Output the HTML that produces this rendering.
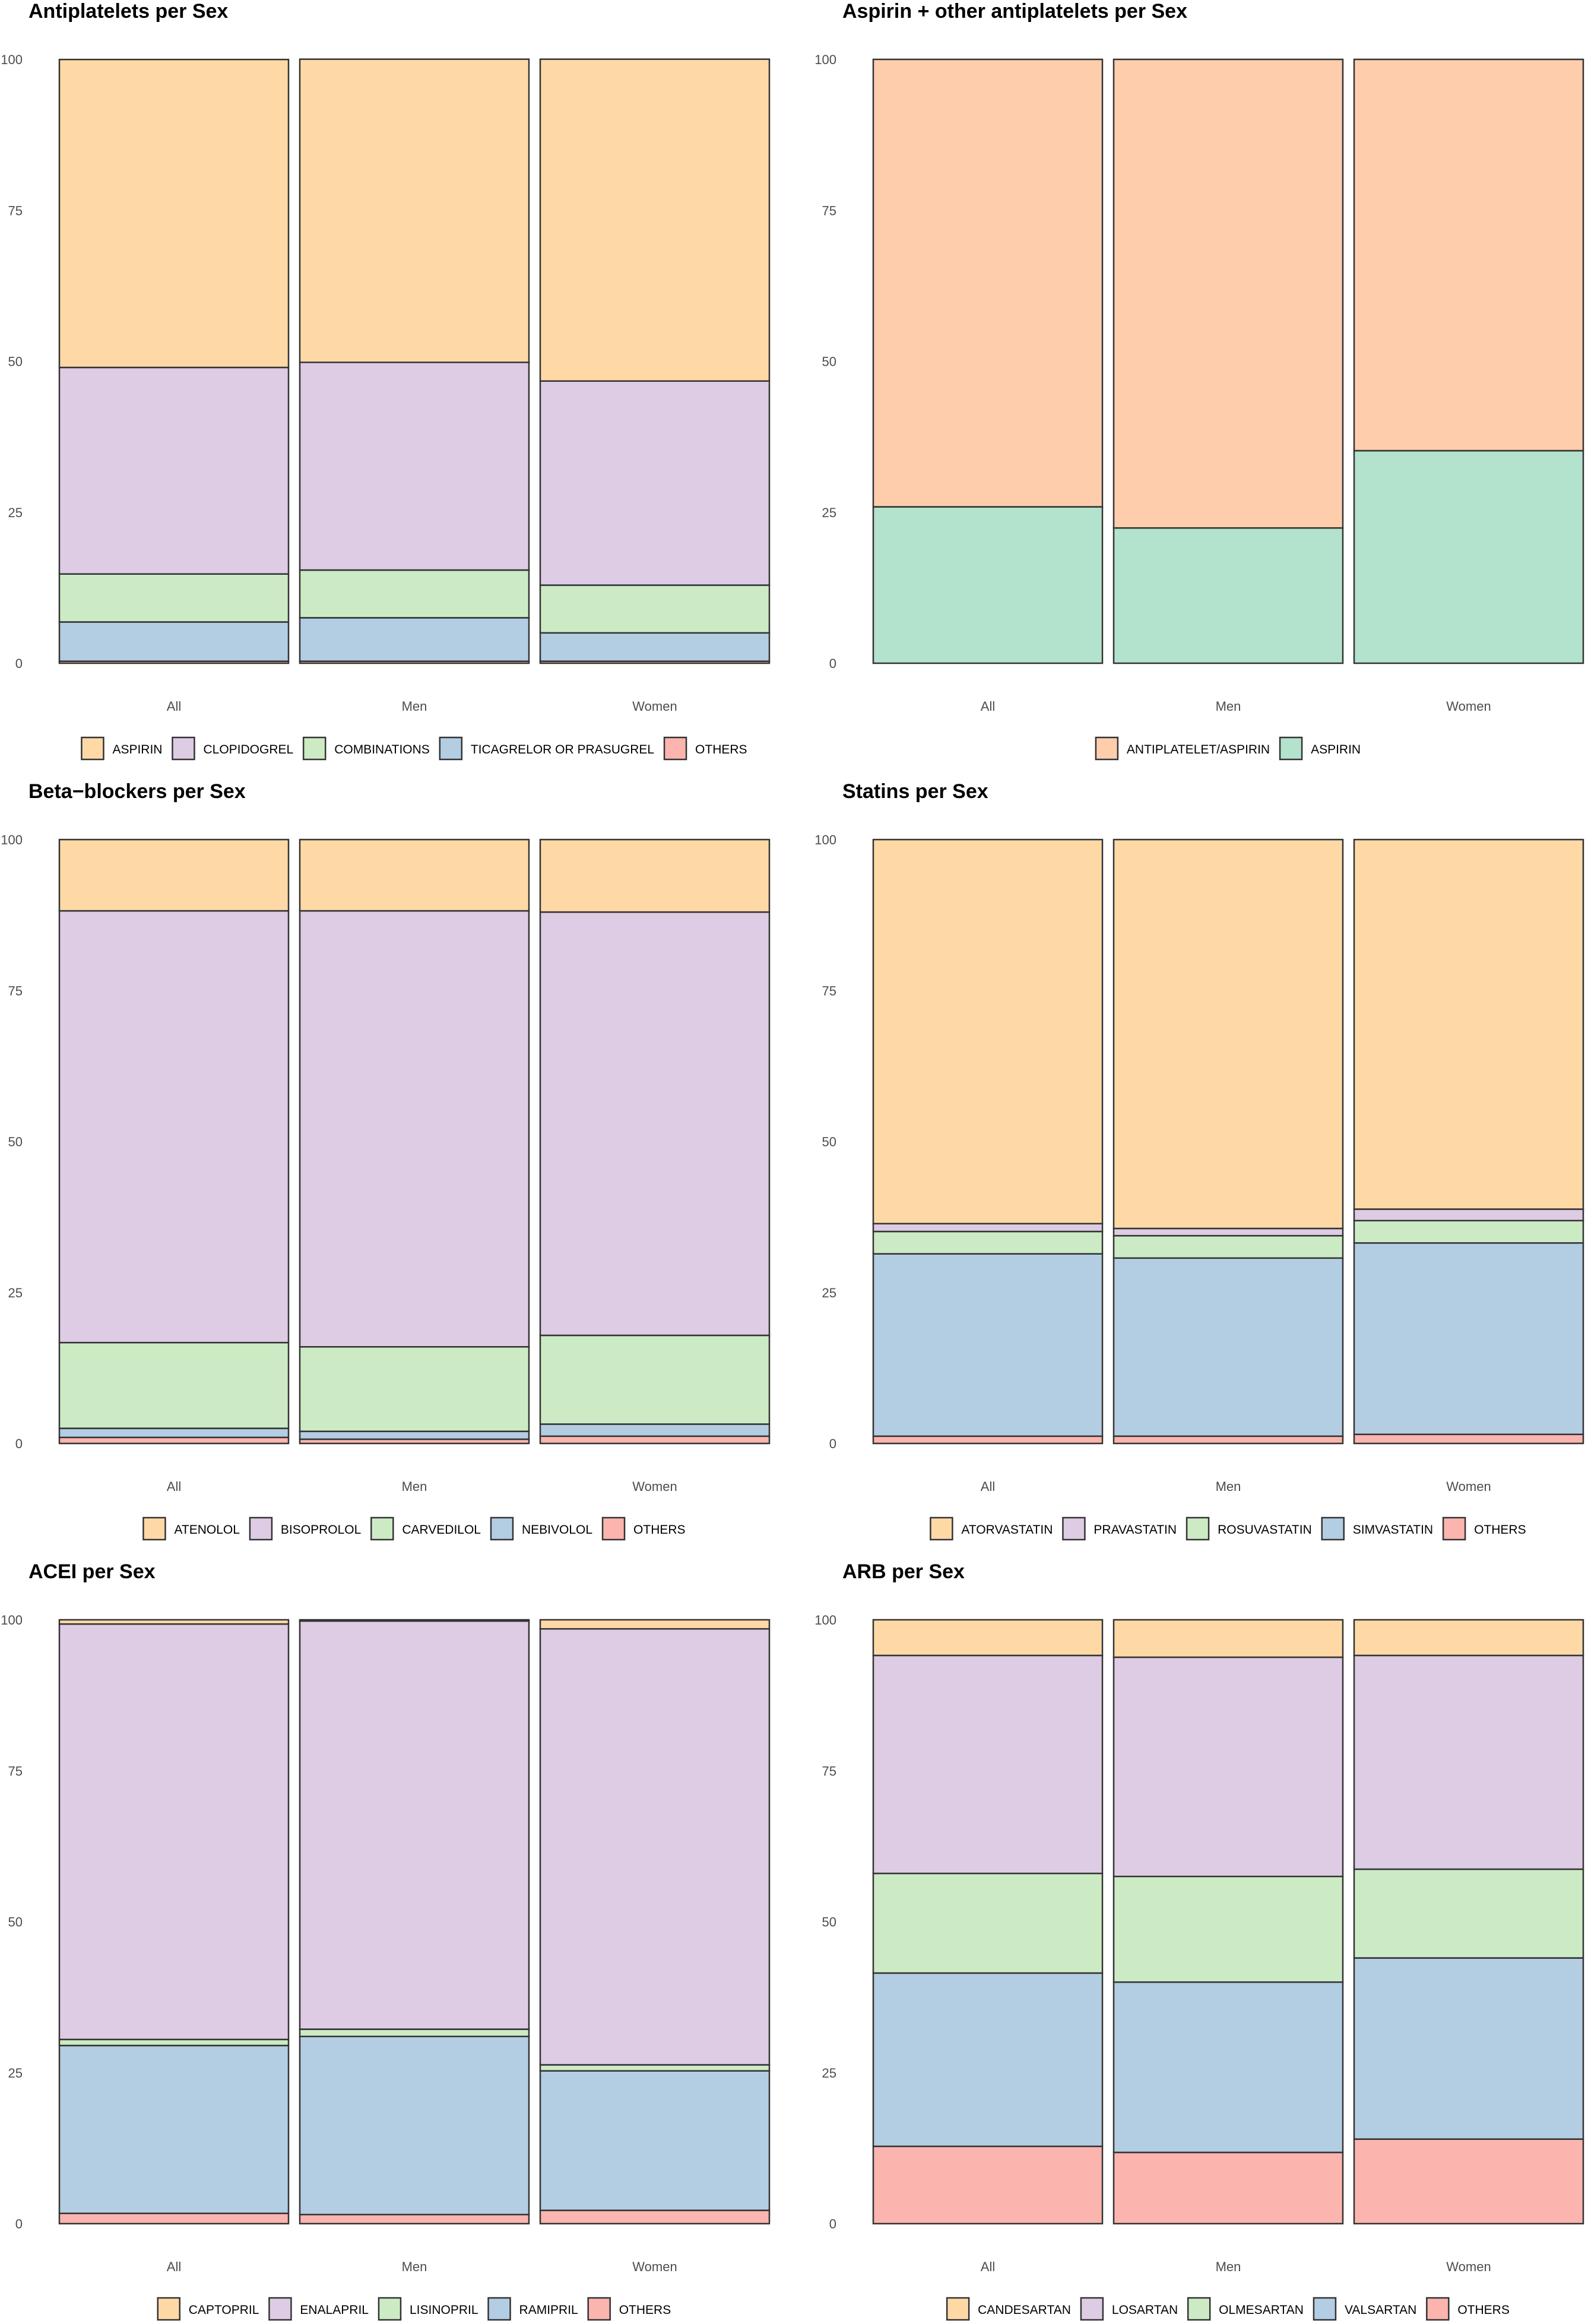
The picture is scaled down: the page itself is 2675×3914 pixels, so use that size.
<!DOCTYPE html>
<html><head><meta charset="utf-8">
<style>
html,body{margin:0;padding:0;background:#fff;}
svg{display:block;font-family:"Liberation Sans",Arial,sans-serif;}
</style></head>
<body>
<svg id="chart" width="2675" height="3914" viewBox="0 0 2675 3914" xmlns="http://www.w3.org/2000/svg"></svg>
<script>
const categories = ["All","Men","Women"];
const yTicks = [0,25,50,75,100];

// Panel 1: Antiplatelets (bottom-up order)
const p1Series = ["OTHERS","TICAGRELOR OR PRASUGREL","COMBINATIONS","CLOPIDOGREL","ASPIRIN"];
const p1All = [0.33,6.5,7.95,34.2,51.0];
const p1Men = [0.33,7.2,7.9,34.4,50.2];
const p1Women = [0.33,4.7,7.9,33.8,53.3];

// Panel 2: Aspirin + other antiplatelets
const p2Series = ["ASPIRIN","ANTIPLATELET/ASPIRIN"];
const p2All = [25.9,74.1];
const p2Men = [22.4,77.6];
const p2Women = [35.2,64.8];

// Panel 3: Beta-blockers
const p3Series = ["OTHERS","NEBIVOLOL","CARVEDILOL","BISOPROLOL","ATENOLOL"];
const p3All = [1.0,1.5,14.2,71.5,11.8];
const p3Men = [0.7,1.3,14.0,72.2,11.8];
const p3Women = [1.2,2.0,14.7,70.1,12.0];

// Panel 4: Statins
const p4Series = ["OTHERS","SIMVASTATIN","ROSUVASTATIN","PRAVASTATIN","ATORVASTATIN"];
const p4All = [1.2,30.2,3.7,1.3,63.6];
const p4Men = [1.2,29.5,3.7,1.2,64.4];
const p4Women = [1.5,31.7,3.7,1.9,61.2];

// Panel 5: ACEI
const p5Series = ["OTHERS","RAMIPRIL","LISINOPRIL","ENALAPRIL","CAPTOPRIL"];
const p5All = [1.7,27.8,1.0,68.8,0.7];
const p5Men = [1.5,29.5,1.2,67.6,0.2];
const p5Women = [2.2,23.1,1.0,72.2,1.5];

// Panel 6: ARB
const p6Series = ["OTHERS","VALSARTAN","OLMESARTAN","LOSARTAN","CANDESARTAN"];
const p6All = [12.8,28.7,16.5,36.1,5.9];
const p6Men = [11.8,28.2,17.5,36.3,6.2];
const p6Women = [14.0,30.0,14.7,35.4,5.9];

const panels = [
 {title:"Antiplatelets per Sex",series:p1Series,vals:[p1All,p1Men,p1Women],legend:["ASPIRIN","CLOPIDOGREL","COMBINATIONS","TICAGRELOR OR PRASUGREL","OTHERS"],colors:["#FBB4AE","#B3CDE3","#CCEBC5","#DECBE4","#FED9A6"]},
 {title:"Aspirin + other antiplatelets per Sex",series:p2Series,vals:[p2All,p2Men,p2Women],legend:["ANTIPLATELET/ASPIRIN","ASPIRIN"],colors:["#B3E2CD","#FDCDAC"]},
 {title:"Beta\u2212blockers per Sex",series:p3Series,vals:[p3All,p3Men,p3Women],legend:["ATENOLOL","BISOPROLOL","CARVEDILOL","NEBIVOLOL","OTHERS"],colors:["#FBB4AE","#B3CDE3","#CCEBC5","#DECBE4","#FED9A6"]},
 {title:"Statins per Sex",series:p4Series,vals:[p4All,p4Men,p4Women],legend:["ATORVASTATIN","PRAVASTATIN","ROSUVASTATIN","SIMVASTATIN","OTHERS"],colors:["#FBB4AE","#B3CDE3","#CCEBC5","#DECBE4","#FED9A6"]},
 {title:"ACEI per Sex",series:p5Series,vals:[p5All,p5Men,p5Women],legend:["CAPTOPRIL","ENALAPRIL","LISINOPRIL","RAMIPRIL","OTHERS"],colors:["#FBB4AE","#B3CDE3","#CCEBC5","#DECBE4","#FED9A6"]},
 {title:"ARB per Sex",series:p6Series,vals:[p6All,p6Men,p6Women],legend:["CANDESARTAN","LOSARTAN","OLMESARTAN","VALSARTAN","OTHERS"],colors:["#FBB4AE","#B3CDE3","#CCEBC5","#DECBE4","#FED9A6"]}
];

const svg = document.getElementById('chart');
const NS = "http://www.w3.org/2000/svg";
function mk(tag, attrs, parent){
  const e = document.createElementNS(NS, tag);
  for (const k in attrs) e.setAttribute(k, attrs[k]);
  parent.appendChild(e); return e;
}
const Y0 = 1117, Y100 = 100;
function yScale(v){ return Y0 - v * (Y0 - Y100) / 100; }
function xScale(i){ return 100 + i * 405; }
const BW = 386;

panels.forEach((p, pi) => {
  const ox = (pi % 2) * 1371, oy = Math.floor(pi / 2) * 1314;
  const g = mk('g', {transform:`translate(${ox},${oy})`}, svg);
  
  
  const colorOf = {};
  p.series.forEach((s, si) => colorOf[s] = p.colors[si]);

  const t = mk('text', {x:48, y:30, 'font-size':34, 'font-weight':'bold', fill:'#000'}, g);
  t.textContent = p.title;
  
  

  yTicks.forEach(v => {
    const tt = mk('text', {x:38, y:yScale(v)+8, 'font-size':22, fill:'#4d4d4d', 'text-anchor':'end'}, g);
    tt.textContent = v;
    
    
  });

  categories.forEach((c, ci) => {
    let cum = 0;
    p.series.forEach((s, si) => {
      const v = p.vals[ci][si];
      const yTop = yScale(cum + v), yBot = yScale(cum);
      const r = mk('rect', {x:xScale(ci), y:yTop, width:BW, height:Math.max(0, yBot - yTop), fill:colorOf[s], stroke:'#333', 'stroke-width':2.5}, g);
      
      
      cum += v;
    });
    const ct = mk('text', {x:xScale(ci)+BW/2, y:1197, 'font-size':22, fill:'#4d4d4d', 'text-anchor':'middle'}, g);
    ct.textContent = c;
    
    
  });

  const lg = mk('g', {}, g);
  
  
  let x = 0;
  const items = [];
  p.legend.forEach(name => {
    const key = mk('rect', {x:0, y:1242, width:37, height:37, fill:colorOf[name], stroke:'#333', 'stroke-width':2.5}, lg);
    
    
    const lt = mk('text', {x:0, y:1269, 'font-size':21, fill:'#000'}, lg);
    lt.textContent = name;
    
    
    const w = lt.getComputedTextLength();
    items.push({key, lt, x});
    x += 37 + 15 + w + 17;
  });
  const total = x - 17;
  const start = 698 - total / 2;
  items.forEach(it => {
    it.key.setAttribute('x', start + it.x);
    it.lt.setAttribute('x', start + it.x + 52);
  });
});
</script>
</body></html>
